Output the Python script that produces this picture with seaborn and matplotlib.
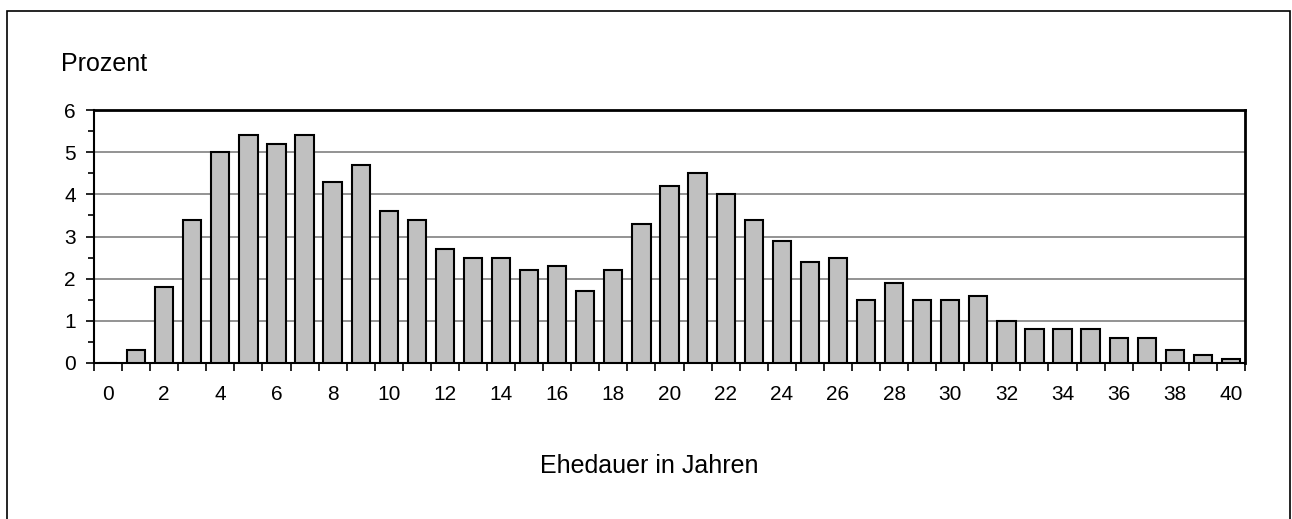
import numpy as np
import pandas as pd
import matplotlib
matplotlib.use("Agg")
import matplotlib.pyplot as plt
from matplotlib.patches import Rectangle
from matplotlib.ticker import MultipleLocator, FixedLocator
import seaborn as sns

# Data
years = list(range(0, 41))
percent = [0.0, 0.3, 1.8, 3.4, 5.0, 5.4, 5.2, 5.4, 4.3, 4.7,
           3.6, 3.4, 2.7, 2.5, 2.5, 2.2, 2.3, 1.7, 2.2, 3.3,
           4.2, 4.5, 4.0, 3.4, 2.9, 2.4, 2.5, 1.5, 1.9, 1.5,
           1.5, 1.6, 1.0, 0.8, 0.8, 0.8, 0.6, 0.6, 0.3, 0.2, 0.1]
tick_labels = [str(v) for v in range(0, 41, 2)]
y_label = "Prozent"
x_label = "Ehedauer in Jahren"

sns.set_style("white")
plt.rcParams["font.family"] = ["Liberation Sans", "DejaVu Sans"]
plt.rcParams["text.color"] = "black"

W, H = 1292, 519
fig = plt.figure(figsize=(W / 100, H / 100), dpi=100)
ax = fig.add_axes([94 / W, 1 - 363 / H, (1245 - 94) / W, (363 - 110) / H])

df = pd.DataFrame({"year": years, "percent": percent})
sns.barplot(data=df, x="year", y="percent", order=years, color="#C0C0C0",
            saturation=1, edgecolor="black", linewidth=1.5, width=0.65, ax=ax, zorder=3)

ax.set_xlim(-0.5, 40.5)
ax.set_ylim(0, 6)

# y axis
ax.yaxis.set_major_locator(MultipleLocator(1))
ax.yaxis.set_minor_locator(MultipleLocator(0.5))
ax.tick_params(axis="y", which="major", direction="out", length=6, width=1.2,
               labelsize=15, pad=7, left=True, colors="black")
ax.tick_params(axis="y", which="minor", direction="out", length=4, width=1.2, left=True,
               colors="black")
ax.yaxis.grid(True, which="major", color="#808080", linewidth=1.2, zorder=0)
ax.set_axisbelow(True)

# x axis: labels at even categories, ticks between categories
ax.set_xticks(range(0, 41, 2))
ax.set_xticklabels(tick_labels)
ax.xaxis.set_minor_locator(FixedLocator(np.arange(-0.5, 41, 1)))
ax.tick_params(axis="x", which="major", length=0, labelsize=15, pad=16, colors="black")
ax.tick_params(axis="x", which="minor", direction="out", length=6, width=1.2, bottom=True,
               colors="black")

ax.set_xlabel("")
ax.set_ylabel("")

for side in ["left", "bottom"]:
    ax.spines[side].set_color("black")
    ax.spines[side].set_linewidth(1.5)
for side in ["top", "right"]:
    ax.spines[side].set_visible(True)
    ax.spines[side].set_color("black")
    ax.spines[side].set_linewidth(2)

fig.text(61 / W, 1 - 71 / H, y_label, ha="left", va="baseline", fontsize=18, color="black")
fig.text(649 / W, 1 - 473 / H, x_label, ha="center", va="baseline", fontsize=18, color="black")

# outer chart border
fig.patches.append(Rectangle((7 / W, -0.05), (1290 - 7) / W, 1.05 - 11 / H,
                             transform=fig.transFigure, fill=False,
                             edgecolor="black", linewidth=1.2))

fig.savefig("out.png", dpi=100)
